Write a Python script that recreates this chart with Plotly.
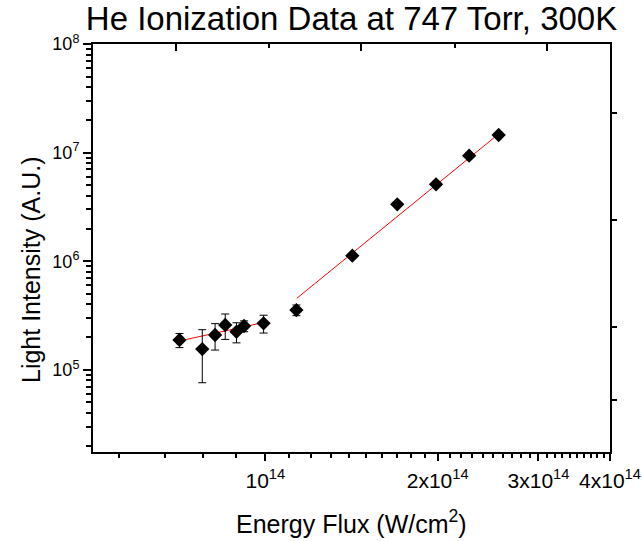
import plotly.graph_objects as go

# Data
flux = [7.08e13, 7.76e13, 8.17e13, 8.51e13, 8.905e13, 9.18e13, 9.93e13,
        1.133e14, 1.419e14, 1.70e14, 1.987e14, 2.27e14, 2.556e14]
intensity = [1.88e5, 1.55e5, 2.09e5, 2.585e5, 2.24e5, 2.53e5, 2.68e5,
             3.55e5, 1.124e6, 3.34e6, 5.105e6, 9.365e6, 1.452e7]
intensity_err = [0.28e5, 0.79e5, 0.57e5, 0.68e5, 0.47e5, 0.29e5, 0.50e5,
                 0.40e5, 0.3e5, 0.8e5, 1.2e5, 2.0e5, 3.0e5]

fit1_x = [7.08e13, 9.93e13]
fit1_y = [1.842e5, 2.726e5]
fit2_x = [1.135e14, 2.556e14]
fit2_y = [4.553e5, 1.484e7]

x_tickvals = [1e14, 2e14, 3e14, 4e14]
x_ticktext = ["10<sup>14</sup>", "2x10<sup>14</sup>", "3x10<sup>14</sup>", "4x10<sup>14</sup>"]
x_minor = [5.56e13, 6.67e13, 7.78e13, 8.89e13] + \
          [k * 1e13 for k in range(11, 20)] + \
          [k * 1e13 for k in range(21, 30)] + \
          [k * 1e13 for k in range(31, 40)]
y_tickvals = [1e5, 1e6, 1e7, 1e8]
y_ticktext = ["10<sup>5</sup>", "10<sup>6</sup>", "10<sup>7</sup>", "10<sup>8</sup>"]
y_minor = [k * 10 ** d for d in range(4, 8) for k in range(2, 10)]

FONT = "Liberation Sans, Arial, sans-serif"

fig = go.Figure()
fig.add_trace(go.Scatter(x=fit1_x, y=fit1_y, mode="lines",
                         line=dict(color="red", width=1), showlegend=False))
fig.add_trace(go.Scatter(x=fit2_x, y=fit2_y, mode="lines",
                         line=dict(color="red", width=1), showlegend=False))
fig.add_trace(go.Scatter(
    x=flux, y=intensity, mode="markers",
    marker=dict(symbol="diamond", size=11, color="black"),
    error_y=dict(type="data", array=intensity_err, color="black", thickness=1, width=4),
    showlegend=False))
# helper trace for the decorative top/right axes
fig.add_trace(go.Scatter(x=[None], y=[None], xaxis="x2", yaxis="y2",
                         mode="markers", showlegend=False, hoverinfo="skip"))

fig.update_layout(
    width=642, height=541,
    margin=dict(l=93, r=32, t=44, b=89, autoexpand=False),
    paper_bgcolor="white", plot_bgcolor="white",
    font=dict(family=FONT, color="black"),
    title=dict(text="He Ionization Data at 747 Torr, 300K",
               font=dict(size=33, family=FONT, color="black"),
               xref="paper", x=0.5, xanchor="center",
               yref="container", y=1 - 18 / 541, yanchor="middle"),
    xaxis=dict(type="log", range=[13.69897, 14.60206], automargin=False,
               showgrid=False, zeroline=False,
               showline=True, linecolor="black", linewidth=2, mirror=True,
               ticks="outside", ticklen=7, tickwidth=2, tickcolor="black",
               tickmode="array", tickvals=x_tickvals, ticktext=x_ticktext,
               tickfont=dict(size=21), ticklabelstandoff=2,
               minor=dict(tickmode="array", tickvals=x_minor, ticks="outside",
                          ticklen=4, tickwidth=1.5, tickcolor="black")),
    yaxis=dict(type="log", range=[4.243, 8], automargin=False,
               showgrid=False, zeroline=False,
               showline=True, linecolor="black", linewidth=2, mirror=True,
               ticks="outside", ticklen=8, tickwidth=2, tickcolor="black",
               tickmode="array", tickvals=y_tickvals, ticktext=y_ticktext,
               tickfont=dict(size=18),
               minor=dict(tickmode="array", tickvals=y_minor, ticks="outside",
                          ticklen=5, tickwidth=1.5, tickcolor="black")),
    xaxis2=dict(overlaying="x", side="top", range=[0, 1], automargin=False,
                showgrid=False, zeroline=False, showline=False,
                ticks="inside", ticklen=7, tickwidth=2, tickcolor="black",
                tickmode="array", tickvals=[0.1605, 0.518, 0.878], showticklabels=False,
                minor=dict(tickmode="array", tickvals=[0.340, 0.700], ticks="inside",
                           ticklen=4, tickwidth=1.5, tickcolor="black")),
    yaxis2=dict(overlaying="y", side="right", range=[0, 1], automargin=False,
                showgrid=False, zeroline=False, showline=False,
                ticks="outside", ticklen=6, tickwidth=2, tickcolor="black",
                tickmode="array", tickvals=[0.127, 0.306, 0.569, 0.831],
                showticklabels=False),
    annotations=[
        dict(text="Energy Flux (W/cm<sup>2</sup>)", xref="paper", yref="paper",
             x=0.5, y=-(522 - 452) / 408, xanchor="center", yanchor="middle",
             showarrow=False, font=dict(size=25)),
        dict(text="Light Intensity (A.U.)", xref="paper", yref="paper",
             x=-(93 - 31) / 517, y=(452 - 270) / 408, xanchor="center", yanchor="middle",
             textangle=-90, showarrow=False, font=dict(size=25)),
    ],
)

fig.write_html("out.html")
